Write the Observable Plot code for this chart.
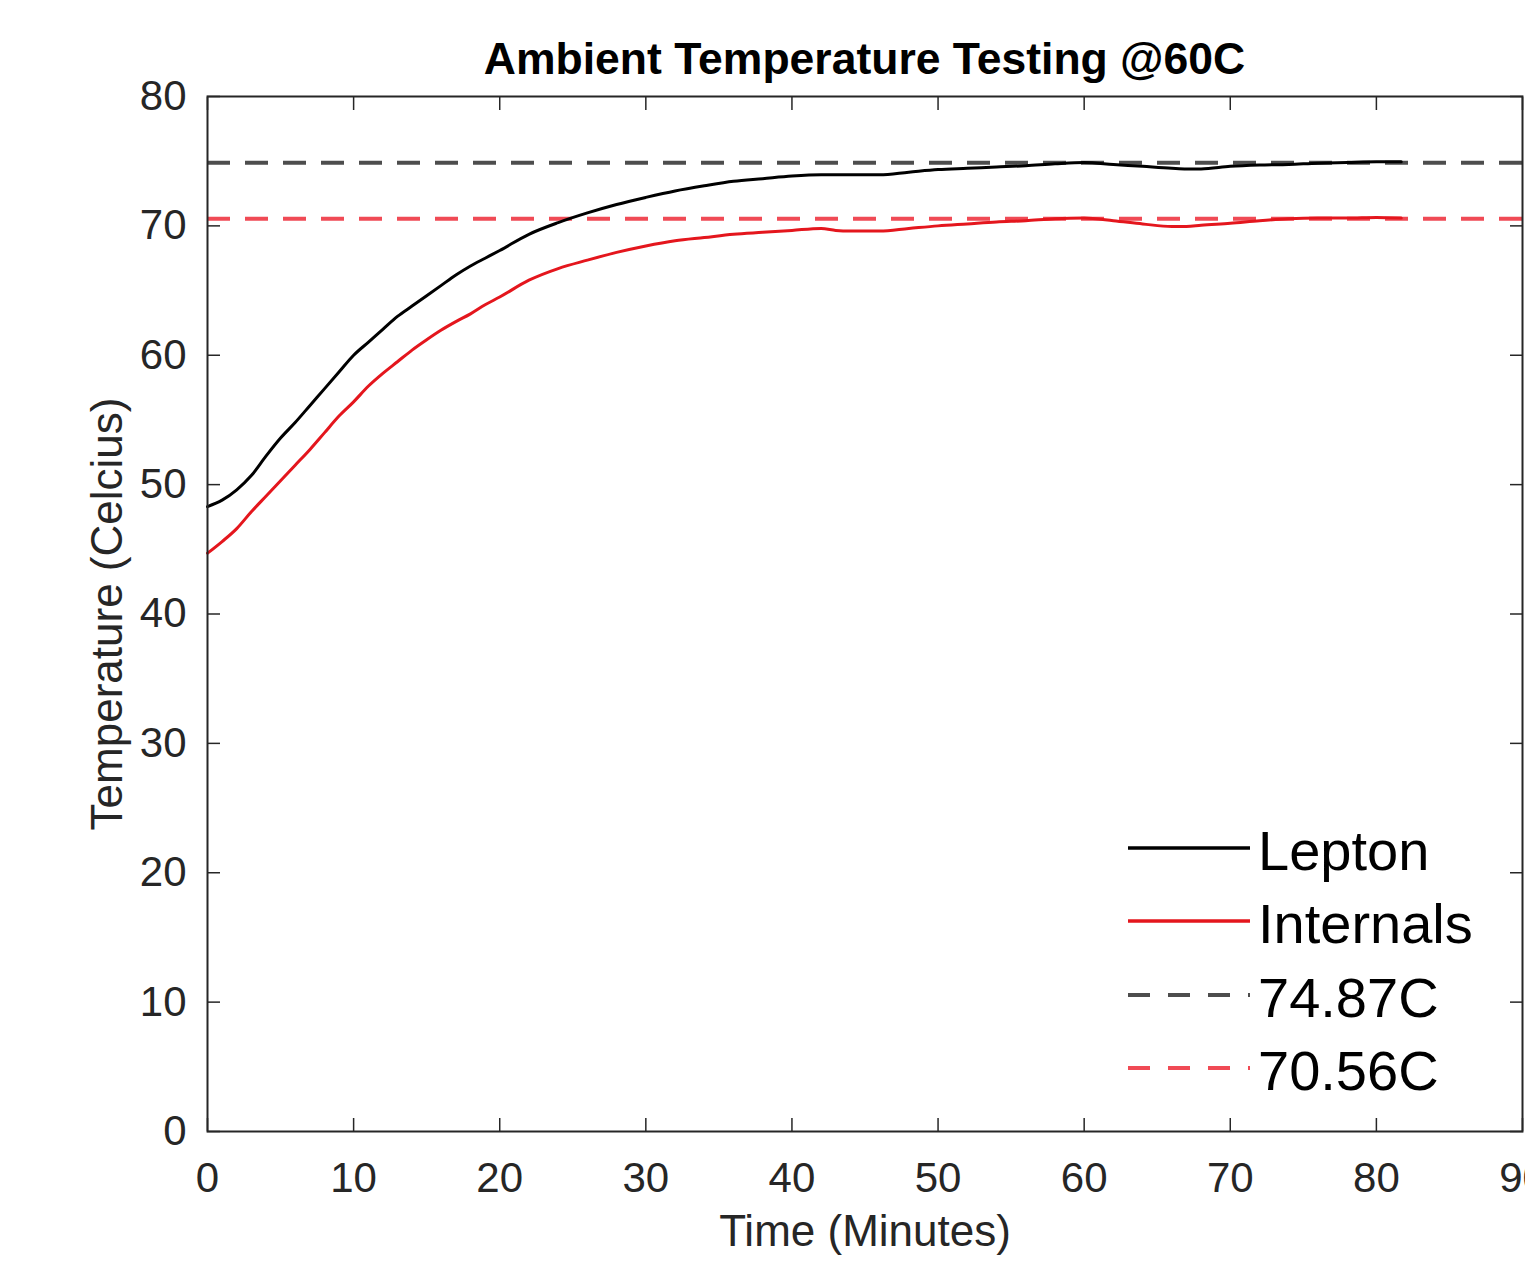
<!DOCTYPE html>
<html><head><meta charset="utf-8">
<script src="https://cdn.jsdelivr.net/npm/d3@7"></script>
<script src="https://cdn.jsdelivr.net/npm/@observablehq/plot@0.6"></script>
<style>
html,body{margin:0;padding:0;background:#fff;overflow:hidden;}
#wrap{position:relative;width:1525px;height:1266px;font-family:"Liberation Sans",Arial,Helvetica,sans-serif;}
#title{position:absolute;left:207px;top:37px;width:1315px;text-align:center;font-weight:bold;font-size:44.5px;line-height:44px;color:#000;white-space:nowrap;z-index:2;}
#legend{position:absolute;left:1128px;top:823px;}
.row{position:relative;height:73.3px;width:380px;}
.row svg{position:absolute;left:0;top:21px;}
.row span{position:absolute;left:130px;top:0;font-size:56px;line-height:55px;color:#000;white-space:nowrap;}
</style></head>
<body><div id="wrap"><div id="chart"></div><div id="title"></div><div id="legend"></div></div>
<script>
// ---- data ----
const titleText = "Ambient Temperature Testing @60C";
const xLabel = "Time (Minutes)";
const yLabel = "Temperature (Celcius)";
const time = [0,1,2,3,4,5,6,7,8,9,10,11,12,13,14,15,16,17,18,19,20,22,24,26,28,30,32,34,36,38,40,42,43,44,46,48,50,52,54,56,58,60,62,64,66,67,68,70,72,74,76,78,80,81.7];
const lepton = [48.3,48.8,49.6,50.7,52.2,53.6,54.8,56.1,57.4,58.7,60.0,61.0,62.0,63.0,63.8,64.6,65.4,66.2,66.9,67.5,68.1,69.35,70.25,71.0,71.65,72.2,72.7,73.1,73.45,73.65,73.85,73.95,73.95,73.95,73.95,74.15,74.35,74.45,74.55,74.65,74.8,74.9,74.75,74.6,74.45,74.4,74.4,74.6,74.7,74.75,74.85,74.9,74.95,74.95];
const internals = [44.7,45.6,46.6,47.9,49.1,50.3,51.5,52.7,54.0,55.3,56.4,57.6,58.6,59.5,60.4,61.2,61.95,62.6,63.2,63.9,64.5,65.8,66.7,67.35,67.95,68.45,68.85,69.1,69.35,69.5,69.65,69.8,69.65,69.6,69.6,69.8,70.0,70.15,70.3,70.4,70.55,70.6,70.4,70.15,69.95,69.95,70.05,70.2,70.4,70.55,70.6,70.6,70.65,70.6];
const steadyValues = [74.87, 70.56];
const xTicks = [0,10,20,30,40,50,60,70,80,90];
const yTicks = [0,10,20,30,40,50,60,70,80];
const seriesNames = ["Lepton","Internals","74.87C","70.56C"];
const seriesColors = ["#000000","#e4161d","#4d4d4d","#f04a55"];
const seriesDash = [null,null,"22,18","22,18"];

const axisColor = "#262626";
const lepRows = time.map((t,i)=>({t, v: lepton[i]}));
const intRows = time.map((t,i)=>({t, v: internals[i]}));

document.getElementById("title").textContent = titleText;

const blank = () => "";
const chart = Plot.plot({
  width: 1525,
  height: 1266,
  marginTop: 96,
  marginBottom: 135,
  marginLeft: 207,
  marginRight: 3,
  style: {fontFamily: '"Liberation Sans", Arial, Helvetica, sans-serif', background: "#fff", color: axisColor},
  x: {domain: [0, 90]},
  y: {domain: [0, 80]},
  marks: [
    Plot.ruleY([steadyValues[0]], {stroke: seriesColors[2], strokeWidth: 4, strokeDasharray: "23,15"}),
    Plot.ruleY([steadyValues[1]], {stroke: seriesColors[3], strokeWidth: 4, strokeDasharray: "23,15"}),
    Plot.line(lepRows, {x: "t", y: "v", stroke: seriesColors[0], strokeWidth: 3, curve: "monotone-x"}),
    Plot.line(intRows, {x: "t", y: "v", stroke: seriesColors[1], strokeWidth: 3, curve: "monotone-x"}),
    Plot.frame({stroke: axisColor, strokeWidth: 2}),
    Plot.axisX({anchor: "bottom", ticks: xTicks, tickSize: 0, tickPadding: 31, fontSize: 42, label: null, fill: axisColor}),
    Plot.axisX({anchor: "bottom", ticks: xTicks, tickSize: -13, tickFormat: blank, label: null, strokeWidth: 1.5}),
    Plot.axisX({anchor: "top", ticks: xTicks, tickSize: -13, tickFormat: blank, label: null, strokeWidth: 1.5}),
    Plot.axisY({anchor: "left", ticks: yTicks, tickSize: 0, tickPadding: 21, fontSize: 42, label: null, fill: axisColor}),
    Plot.axisY({anchor: "left", ticks: yTicks, tickSize: -13, tickFormat: blank, label: null, strokeWidth: 1.5}),
    Plot.axisY({anchor: "right", ticks: yTicks, tickSize: -13, tickFormat: blank, label: null, strokeWidth: 1.5}),
    Plot.text([xLabel], {frameAnchor: "bottom", dy: 100, fontSize: 44, fill: axisColor, lineAnchor: "middle", textAnchor: "middle"}),
    Plot.text([yLabel], {frameAnchor: "left", dx: -100, rotate: -90, fontSize: 44, fill: axisColor, lineAnchor: "middle", textAnchor: "middle"})
  ]
});
document.getElementById("chart").appendChild(chart);

// legend
const leg = document.getElementById("legend");
const NS = "http://www.w3.org/2000/svg";
seriesNames.forEach((name, i) => {
  const row = document.createElement("div");
  row.className = "row";
  const s = document.createElementNS(NS, "svg");
  s.setAttribute("width", "122"); s.setAttribute("height", "8");
  const ln = document.createElementNS(NS, "line");
  ln.setAttribute("x1", "0"); ln.setAttribute("x2", "122");
  ln.setAttribute("y1", "4"); ln.setAttribute("y2", "4");
  ln.setAttribute("stroke", seriesColors[i]);
  ln.setAttribute("stroke-width", seriesDash[i] ? "4" : "3.5");
  if (seriesDash[i]) ln.setAttribute("stroke-dasharray", seriesDash[i]);
  s.appendChild(ln);
  const sp = document.createElement("span");
  sp.textContent = name;
  row.appendChild(s); row.appendChild(sp);
  leg.appendChild(row);
});
</script>
</body></html>
